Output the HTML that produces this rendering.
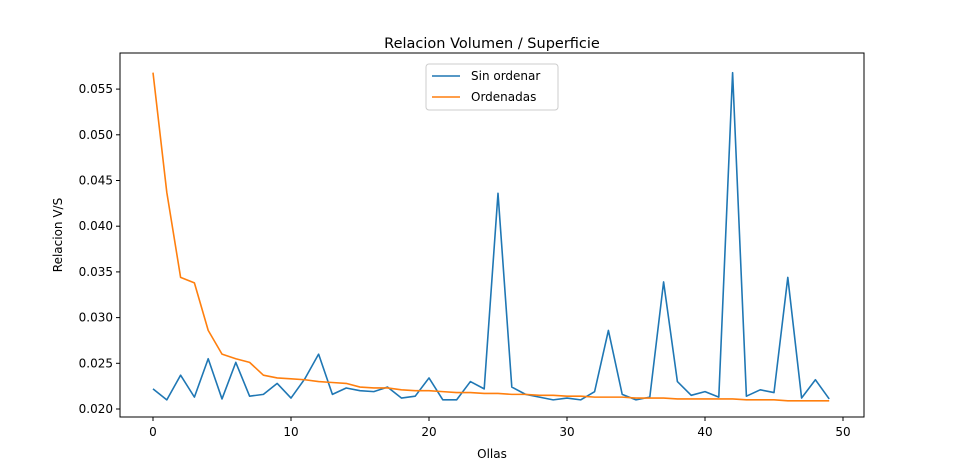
<!DOCTYPE html>
<html><head><meta charset="utf-8"><style>
body{margin:0;background:#fff}
svg{font-family:"DejaVu Sans","Liberation Sans",sans-serif}
</style></head><body>
<svg id="c" width="959" height="469" xmlns="http://www.w3.org/2000/svg"></svg>
<script>
const xTicks=[0,10,20,30,40,50];
const yTicks=[0.020,0.025,0.030,0.035,0.040,0.045,0.050,0.055];
const sinOrdenar=[0.0222,0.0210,0.0237,0.0213,0.0255,0.0211,0.0251,0.0214,0.0216,0.0228,0.0212,0.0233,0.0260,0.0216,0.0223,0.0220,0.0219,0.0224,0.0212,0.0214,0.0234,0.0210,0.0210,0.0230,0.0222,0.0436,0.0224,0.0216,0.0213,0.0210,0.0212,0.0210,0.0219,0.0286,0.0216,0.0210,0.0213,0.0339,0.0230,0.0215,0.0219,0.0213,0.0568,0.0214,0.0221,0.0218,0.0344,0.0212,0.0232,0.0211];
const ordenadas=[0.0568,0.0437,0.0344,0.0338,0.0286,0.0260,0.0255,0.0251,0.0237,0.0234,0.0233,0.0232,0.0230,0.0229,0.0228,0.0224,0.0223,0.0223,0.0221,0.0220,0.0220,0.0219,0.0218,0.0218,0.0217,0.0217,0.0216,0.0216,0.0215,0.0215,0.0214,0.0214,0.0213,0.0213,0.0213,0.0212,0.0212,0.0212,0.0211,0.0211,0.0211,0.0211,0.0211,0.0210,0.0210,0.0210,0.0209,0.0209,0.0209,0.0209];
const L=120,R=864,T=53,B=417;
const xs=v=>153+v*13.8;
const ys=v=>409-(v-0.020)*9140;
const svg=document.getElementById('c');
const NS='http://www.w3.org/2000/svg';
function mk(t,a,txt){const e=document.createElementNS(NS,t);for(const k in a)e.setAttribute(k,a[k]);if(txt!==undefined)e.textContent=txt;svg.appendChild(e);return e;}
let e;
e=mk('rect',{x:L,y:T,width:R-L,height:B-T,fill:'none',stroke:'#000','stroke-width':1});


xTicks.forEach(t=>{
 e=mk('line',{x1:xs(t),x2:xs(t),y1:B,y2:B+4,stroke:'#000'});
 
 
 e=mk('text',{x:xs(t),y:B+19,'text-anchor':'middle','font-size':12},String(t));
 
 
});
yTicks.forEach(t=>{
 e=mk('line',{x1:L-4,x2:L,y1:ys(t),y2:ys(t),stroke:'#000'});
 
 
 e=mk('text',{x:L-7,y:ys(t)+4,'text-anchor':'end','font-size':12},t.toFixed(3));
 
 
});
function line(d,c,n){
 e=mk('polyline',{points:d.map((v,i)=>xs(i)+','+ys(v)).join(' '),fill:'none',stroke:c,'stroke-width':1.6,'stroke-linejoin':'round'});
 
 
}
line(sinOrdenar,'#1f77b4','series-sin-ordenar');
line(ordenadas,'#ff7f0e','series-ordenadas');
e=mk('text',{x:492,y:48,'text-anchor':'middle','font-size':14.5},'Relacion Volumen / Superficie');


e=mk('text',{x:492,y:458,'text-anchor':'middle','font-size':12},'Ollas');


e=mk('text',{x:62,y:235,'text-anchor':'middle','font-size':12,transform:'rotate(-90 62 235)'},'Relacion V/S');


e=mk('rect',{x:426,y:64,width:132,height:46,rx:3,fill:'#fff','fill-opacity':0.8,stroke:'#ccc'});


[['Sin ordenar','#1f77b4',76],['Ordenadas','#ff7f0e',97]].forEach(([n,c,y])=>{
 e=mk('line',{x1:432,x2:460,y1:y,y2:y,stroke:c,'stroke-width':1.6});
 
 
 e=mk('text',{x:471,y:y+4,'font-size':12},n);
 
 
});
</script>
</body></html>
